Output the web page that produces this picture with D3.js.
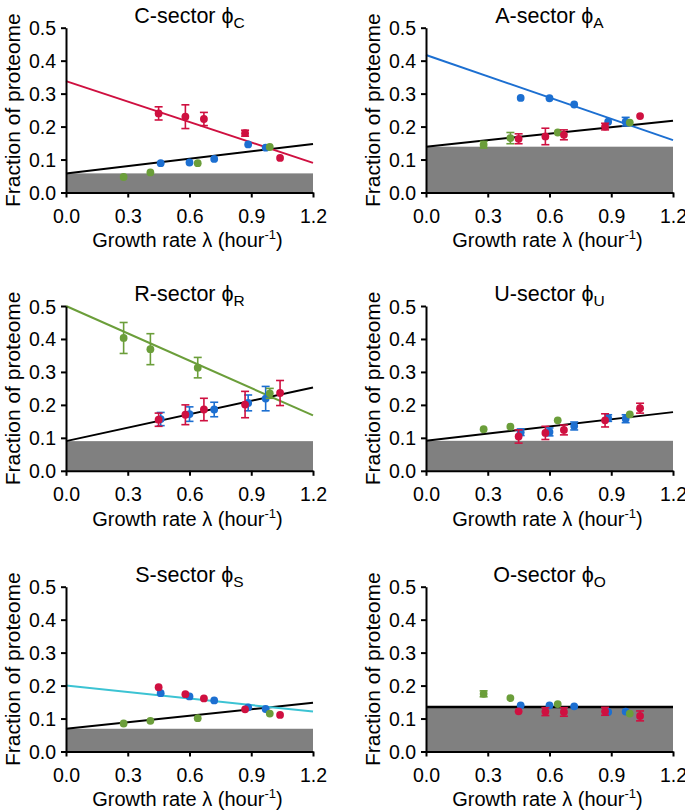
<!DOCTYPE html>
<html><head><meta charset="utf-8">
<script src="https://cdn.jsdelivr.net/npm/d3@7"></script>
<style>
html,body{margin:0;padding:0;background:#fff;}
svg text{font-family:"Liberation Sans",Arial,Helvetica,sans-serif;fill:#000;}
</style></head>
<body><svg id="c" width="685" height="810"></svg>
<script>
// ---- data ----
const xTicks = [0.0, 0.3, 0.6, 0.9, 1.2];
const yTicks = [0.0, 0.1, 0.2, 0.3, 0.4, 0.5];
const lambdaGreen = [0.28, 0.41, 0.64, 0.99];
const lambdaRed = [0.45, 0.58, 0.67, 0.87, 1.04];
const lambdaBlue = [0.46, 0.60, 0.72, 0.885, 0.97];
const sectors = ["C", "A", "R", "U", "S", "O"];

// per-sector values (green, red, blue) and error half-widths
const greenVals = {C:[0.047,0.061,0.089,0.138], A:[0.145,0.165,0.182,0.212], R:[0.403,0.369,0.313,0.235], U:[0.126,0.134,0.153,0.171], S:[0.085,0.093,0.101,0.115], O:[0.175,0.162,0.144,0.115]};
const greenErr  = {C:[0,0,0,0], A:[0.01,0.017,0,0], R:[0.047,0.047,0.031,0.015], U:[0,0,0,0], S:[0,0,0,0], O:[0.009,0,0,0]};
const redVals = {C:[0.240,0.230,0.223,0.180,0.105], A:[0.163,0.170,0.175,0.200,0.232], R:[0.155,0.170,0.186,0.201,0.236], U:[0.104,0.115,0.124,0.153,0.190], S:[0.195,0.174,0.161,0.128,0.111], O:[0.122,0.121,0.120,0.122,0.108]};
const redErr  = {C:[0.02,0.036,0.02,0.009,0], A:[0.015,0.025,0.015,0.01,0], R:[0.02,0.03,0.034,0.04,0.038], U:[0.02,0.02,0.015,0.02,0.015], S:[0,0,0,0,0], O:[0,0.012,0.013,0.012,0.015]};
const blueVals = {C:[0.089,0.091,0.102,0.146,0.136], A:[0.287,0.286,0.267,0.215,0.215], R:[0.157,0.172,0.186,0.206,0.219], U:[0.117,0.118,0.136,0.160,0.158], S:[0.177,0.167,0.155,0.134,0.129], O:[0.140,0.140,0.137,0.120,0.121]};
const blueErr  = {C:[0,0,0,0,0], A:[0,0,0,0,0.013], R:[0.02,0.022,0.022,0.024,0.037], U:[0.01,0.012,0.012,0.01,0.012], S:[0,0,0,0,0], O:[0,0,0,0,0]};

// fitted lines: [value at λ=0, value at λ=1.2]
const blackLine = {C:[0.058,0.147], A:[0.139,0.218], R:[0.090,0.253], U:[0.091,0.178], S:[0.069,0.148], O:[0.135,0.135]};
const colorLine = {C:[0.338,0.090], A:[0.417,0.159], R:[0.500,0.168], U:null, S:[0.200,0.121], O:null};
const colorLineSeries = {C:"red", A:"blue", R:"green", U:null, S:"cyan", O:null};
const offsetGray = {C:0.058, A:0.139, R:0.090, U:0.091, S:0.069, O:0.135};

// ---- style ----
const colors = {red:"#cf1040", blue:"#1c6fd1", green:"#6b9e3a", cyan:"#3cc3d3"};
const grayFill = "#808080";

const svg = d3.select("#c");
const colX = [66, 426];
const rowY = [27.7, 306, 586.7];
const W = 247, H = 164.8;

sectors.forEach((s, i) => {
  const gx = colX[i % 2], gy = rowY[Math.floor(i / 2)];
  const g = svg.append("g").attr("transform", `translate(${gx},${gy})`);
  const x = d3.scaleLinear().domain([0, 1.2]).range([0, W]);
  const y = d3.scaleLinear().domain([0, 0.5]).range([H, 0]);

  // gray offset
  g.append("rect").attr("x", x(0)).attr("y", y(offsetGray[s]))
    .attr("width", x(1.2) - x(0)).attr("height", y(0) - y(offsetGray[s]))
    .attr("fill", grayFill);

  // fitted lines
  const line = d3.line().x(d => x(d[0])).y(d => y(d[1]));
  g.append("path").datum([[0, blackLine[s][0]], [1.2, blackLine[s][1]]])
    .attr("d", line).attr("stroke", "#000").attr("stroke-width", s === "O" ? 2.6 : 2).attr("fill", "none");
  if (colorLine[s]) {
    g.append("path").datum([[0, colorLine[s][0]], [1.2, colorLine[s][1]]])
      .attr("d", line).attr("stroke", colors[colorLineSeries[s]]).attr("stroke-width", 2).attr("fill", "none");
  }

  // points
  const series = [
    {c: colors.blue, xs: lambdaBlue, v: blueVals[s], e: blueErr[s]},
    {c: colors.green, xs: lambdaGreen, v: greenVals[s], e: greenErr[s]},
    {c: colors.red, xs: lambdaRed, v: redVals[s], e: redErr[s]}
  ];
  series.forEach(sr => {
    const pts = sr.xs.map((lx, k) => ({x: lx, v: sr.v[k], e: sr.e[k]}));
    const eg = g.append("g").attr("stroke", sr.c).attr("stroke-width", 1.6);
    pts.filter(p => p.e > 0).forEach(p => {
      eg.append("line").attr("x1", x(p.x)).attr("x2", x(p.x)).attr("y1", y(p.v - p.e)).attr("y2", y(p.v + p.e));
      [p.v - p.e, p.v + p.e].forEach(t => {
        eg.append("line").attr("x1", x(p.x) - 4).attr("x2", x(p.x) + 4).attr("y1", y(t)).attr("y2", y(t));
      });
    });
    g.append("g").selectAll("circle").data(pts).join("circle")
      .attr("cx", p => x(p.x)).attr("cy", p => y(p.v)).attr("r", 3.9).attr("fill", sr.c);
  });

  // axes
  const xa = g.append("g").attr("transform", `translate(0,${H})`)
    .call(d3.axisBottom(x).tickValues(xTicks).tickFormat(d3.format(".1f")).tickSize(5).tickSizeOuter(0));
  const ya = g.append("g")
    .call(d3.axisLeft(y).tickValues(yTicks).tickFormat(d3.format(".1f")).tickSize(5).tickSizeOuter(0));
  [xa, ya].forEach(a => {
    a.select(".domain").attr("stroke", "#000").attr("stroke-width", 2);
    a.selectAll(".tick line").attr("stroke", "#000").attr("stroke-width", 2);
    a.selectAll(".tick text").attr("font-size", 19.5).attr("font-family", "Liberation Sans, Arial, sans-serif").attr("fill", "#000");
  });
  xa.selectAll(".tick text").attr("dy", null).attr("y", 30);
  ya.selectAll(".tick text").attr("x", -10).attr("dy", "0.36em");

  // title
  const t = g.append("text").attr("x", W / 2).attr("y", -5).attr("text-anchor", "middle").attr("font-size", 21.5);
  t.append("tspan").text(s + "-sector ");
  t.append("tspan").text("ϕ");
  t.append("tspan").text(s).attr("font-size", 15.5).attr("dy", 5);

  // x label
  const xl = g.append("text").attr("x", W / 2 - 2).attr("y", H + 55).attr("text-anchor", "middle").attr("font-size", 20);
  xl.append("tspan").text("Growth rate λ (hour");
  xl.append("tspan").text("-1").attr("font-size", 13).attr("dy", -8);
  xl.append("tspan").text(")").attr("dy", 8);

  // y label
  g.append("text").attr("transform", `translate(-46,${H / 2}) rotate(-90)`)
    .attr("text-anchor", "middle").attr("font-size", 21).text("Fraction of proteome");
});
</script></body></html>
